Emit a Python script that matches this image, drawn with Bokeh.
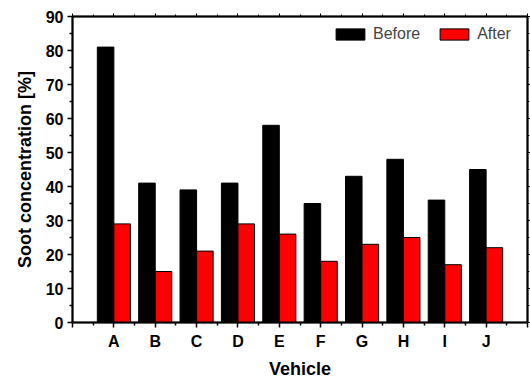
from bokeh.plotting import figure
from bokeh.models import Range1d, LinearAxis, FixedTicker, Legend, LegendItem, ColumnDataSource
from bokeh.embed import file_html
from bokeh.resources import INLINE

vehicles = ["A", "B", "C", "D", "E", "F", "G", "H", "I", "J"]
before = [81, 41, 39, 41, 58, 35, 43, 48, 36, 45]
after = [29, 15, 21, 29, 26, 18, 23, 25, 17, 22]
y_ticks = [0, 10, 20, 30, 40, 50, 60, 70, 80, 90]

positions = list(range(1, len(vehicles) + 1))
src = ColumnDataSource(dict(
    xb=[x - 0.2 for x in positions],
    xa=[x + 0.2 for x in positions],
    before=before,
    after=after,
))

FONT = "Liberation Sans"

p = figure(width=530, height=381, x_range=Range1d(0, 11), y_range=Range1d(0, 90),
           output_backend="svg", toolbar_location=None,
           min_border_left=72, min_border_right=3, min_border_top=16, min_border_bottom=57)
p.xgrid.visible = False
p.ygrid.visible = False
p.outline_line_color = "black"
p.outline_line_width = 1.5

r1 = p.vbar(x="xb", top="before", width=0.4, source=src, fill_color="black", line_color="black", line_width=1)
r2 = p.vbar(x="xa", top="after", width=0.4, source=src, fill_color="#FF0000", line_color="black", line_width=1)

x_ticker = FixedTicker(ticks=list(range(0, 12)), minor_ticks=[i + 0.5 for i in range(11)])
y_ticker = FixedTicker(ticks=y_ticks, minor_ticks=[v + 5 for v in y_ticks[:-1]])

overrides = {0: "", 11: ""}
for i, v in enumerate(vehicles):
    overrides[i + 1] = v

xa = p.xaxis[0]
xa.ticker = x_ticker
xa.major_label_overrides = overrides
xa.axis_label = "Vehicle"
ya = p.yaxis[0]
ya.ticker = y_ticker
ya.axis_label = "Soot concentration [%]"

for ax in (xa, ya):
    ax.axis_line_width = 2
    ax.major_tick_line_width = 1.5
    ax.minor_tick_line_width = 1.5
    ax.major_tick_out = 5
    ax.major_tick_in = 0
    ax.minor_tick_out = 3
    ax.minor_tick_in = 0
    ax.major_label_text_font = FONT
    ax.major_label_text_font_style = "bold"
    ax.major_label_text_font_size = "16px"
    ax.major_label_text_color = "black"
    ax.axis_label_text_font = FONT
    ax.axis_label_text_font_style = "bold"
    ax.axis_label_text_font_size = "18px"
    ax.axis_label_text_color = "black"
    ax.major_label_standoff = 4
    ax.axis_label_standoff = 8
xa.major_label_standoff = 5
xa.axis_label_standoff = 6

top = LinearAxis(ticker=FixedTicker(ticks=list(range(0, 12)), minor_ticks=[i + 0.5 for i in range(11)]))
right = LinearAxis(ticker=FixedTicker(ticks=y_ticks, minor_ticks=[v + 5 for v in y_ticks[:-1]]))
for ax in (top, right):
    ax.axis_line_width = 2
    ax.major_tick_out = 3
    ax.major_tick_in = 0
    ax.minor_tick_out = 2
    ax.minor_tick_in = 0
    ax.major_label_text_font_size = "0px"
    ax.major_label_standoff = 0
    ax.major_label_text_alpha = 0
p.add_layout(top, "above")
p.add_layout(right, "right")

legend = Legend(items=[LegendItem(label="Before", renderers=[r1]),
                       LegendItem(label="After", renderers=[r2])],
                orientation="horizontal", location=(260, 279),
                border_line_color=None, background_fill_alpha=0,
                glyph_width=36, glyph_height=14, label_standoff=5, spacing=16,
                label_text_font=FONT, label_text_font_size="16px",
                padding=0, margin=0)
p.add_layout(legend, "center")

open("out.html", "w").write(file_html(p, INLINE))
